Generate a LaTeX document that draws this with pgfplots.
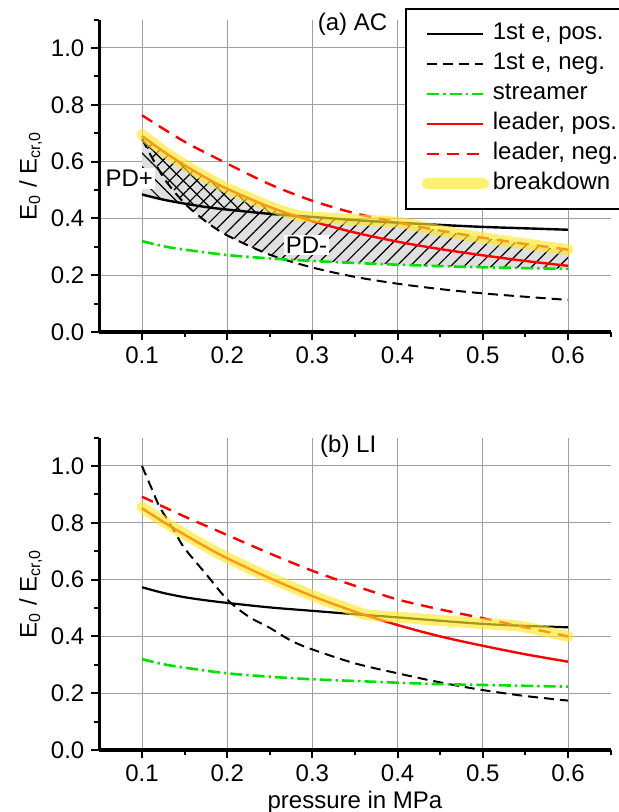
\documentclass[border=0pt]{standalone}
\usepackage{fontspec}
\setmainfont{Liberation Sans}
\usepackage{pgfplots}
\pgfplotsset{compat=1.18}
\usetikzlibrary{patterns.meta}

\definecolor{bdyellow}{RGB}{255,232,40}
\definecolor{lgreen}{RGB}{0,225,0}
\definecolor{lred}{RGB}{255,0,0}

\newcommand{\fs}{\fontsize{12}{14}\selectfont}

\pgfplotsset{
 myax/.style={
  scale only axis, width=255.6pt, height=156.2pt, anchor=south west,
  clip mode=individual,
  xmin=0.05,xmax=0.65,ymin=0,ymax=1.1,
  xtick={0.1,0.2,0.3,0.4,0.5,0.6},
  minor xtick={0.15,0.25,0.35,0.45,0.55,0.65},
  ytick={0,0.2,0.4,0.6,0.8,1.0},
  minor ytick={0.1,0.3,0.5,0.7,0.9,1.1},
  /pgf/number format/fixed,
  /pgf/number format/fixed zerofill,
  /pgf/number format/precision=1,
  /pgf/number format/assume math mode=true,
  grid=major,
  major grid style={line width=0.5pt, gray!75},
  axis x line=bottom, axis y line=left,
  axis line style={line width=1.8pt,-},
  x axis line style={-}, y axis line style={-},
  tick align=outside, major tick length=4pt, minor tick length=2.5pt,
  every tick/.style={black, line width=1pt},
  tick label style={font=\fs},
  label style={font=\fs},
  ylabel={E\textsubscript{0} / E\textsubscript{cr,0}},
  ylabel style={at={(axis description cs:-0.098,0.5)}, anchor=south, rotate=0},
 },
 posE/.style={black, line width=1.1pt, smooth},
 negE/.style={black, line width=1pt, dash pattern=on 5pt off 3pt, smooth},
 strm/.style={lgreen, line width=1.3pt, dash pattern=on 6pt off 2pt on 1.2pt off 2pt, smooth},
 posL/.style={lred, line width=1.2pt, smooth},
 negL/.style={lred, line width=1.2pt, dash pattern=on 6pt off 4pt, smooth},
 bd/.style={bdyellow, opacity=0.65, line width=5.5pt, line cap=round, line join=round, smooth},
}

\begin{document}
\begin{tikzpicture}
\useasboundingbox (0,0) rectangle (309.5pt,406pt);

% ---------------- (a) AC ----------------
\begin{axis}[myax, at={(49.7pt,240pt)},
  legend cell align=left,
  legend image code/.code={\draw[#1] (0pt,0pt) -- (28pt,0pt);},
  legend style={at={(rel axis cs:0.598,1.037)}, anchor=north west, draw=black,
    line width=0.8pt, fill=white, inner xsep=8pt, inner ysep=5pt,
    row sep=0pt, column sep=0pt, font=\fs,
    nodes={text height=8.5pt, text depth=2.5pt, inner sep=2pt}},
]
% PD- region (gray + / hatch)
\addplot[forget plot, draw=none, fill=gray!25] coordinates {
 (0.1,0.695)(0.125,0.638)(0.15,0.589)(0.175,0.545)(0.2,0.506)(0.225,0.472)(0.25,0.442)(0.28,0.412)(0.3,0.405)(0.35,0.395)(0.4,0.386)(0.45,0.357)(0.5,0.332)(0.55,0.31)(0.6,0.285)
 (0.6,0.222)(0.55,0.225)(0.5,0.228)(0.45,0.232)(0.4,0.237)(0.35,0.243)(0.3,0.25)(0.27,0.253)(0.25,0.272)(0.225,0.302)(0.2,0.34)(0.175,0.389)(0.15,0.453)(0.125,0.545)(0.1,0.68)
} -- cycle;
% PD+ region (gray + \ hatch)
\addplot[forget plot, draw=none, fill=gray!25] coordinates {
 (0.1,0.695)(0.125,0.638)(0.15,0.589)(0.175,0.545)(0.2,0.506)(0.225,0.472)(0.25,0.442)(0.28,0.412)
 (0.25,0.416)(0.2,0.431)(0.175,0.44)(0.15,0.452)(0.125,0.466)(0.1,0.484)
} -- cycle;
\addplot[forget plot, draw=none, pattern={Lines[angle=45,distance=4.8pt,line width=0.6pt]}, pattern color=black] coordinates {
 (0.1,0.695)(0.125,0.638)(0.15,0.589)(0.175,0.545)(0.2,0.506)(0.225,0.472)(0.25,0.442)(0.28,0.412)(0.3,0.405)(0.35,0.395)(0.4,0.386)(0.45,0.357)(0.5,0.332)(0.55,0.31)(0.6,0.285)
 (0.6,0.222)(0.55,0.225)(0.5,0.228)(0.45,0.232)(0.4,0.237)(0.35,0.243)(0.3,0.25)(0.27,0.253)(0.25,0.272)(0.225,0.302)(0.2,0.34)(0.175,0.389)(0.15,0.453)(0.125,0.545)(0.1,0.68)
} -- cycle;
\addplot[forget plot, draw=none, pattern={Lines[angle=-45,distance=4.8pt,line width=0.6pt]}, pattern color=black] coordinates {
 (0.1,0.695)(0.125,0.638)(0.15,0.589)(0.175,0.545)(0.2,0.506)(0.225,0.472)(0.25,0.442)(0.28,0.412)
 (0.25,0.416)(0.2,0.431)(0.175,0.44)(0.15,0.452)(0.125,0.466)(0.1,0.484)
} -- cycle;

\addplot[posE, line width=1.2pt] coordinates {(0.1,0.484)(0.125,0.466)(0.15,0.452)(0.175,0.44)(0.2,0.431)(0.25,0.416)(0.3,0.405)(0.35,0.394)(0.4,0.385)(0.45,0.377)(0.5,0.37)(0.55,0.365)(0.6,0.36)};
\addlegendentry{1st e, pos.}
\addplot[negE] coordinates {(0.1,0.68)(0.125,0.545)(0.15,0.453)(0.175,0.389)(0.2,0.34)(0.25,0.272)(0.3,0.227)(0.35,0.194)(0.4,0.17)(0.45,0.151)(0.5,0.136)(0.55,0.124)(0.6,0.113)};
\addlegendentry{1st e, neg.}
\addplot[strm] coordinates {(0.1,0.32)(0.125,0.302)(0.15,0.29)(0.2,0.271)(0.25,0.259)(0.3,0.25)(0.35,0.243)(0.4,0.237)(0.45,0.232)(0.5,0.228)(0.55,0.225)(0.6,0.222)};
\addlegendentry{streamer}
\addplot[posL] coordinates {(0.1,0.69)(0.125,0.636)(0.15,0.587)(0.175,0.543)(0.2,0.504)(0.25,0.44)(0.3,0.39)(0.35,0.35)(0.4,0.318)(0.45,0.292)(0.5,0.27)(0.55,0.25)(0.6,0.233)};
\addlegendentry{leader, pos.}
\addplot[negL] coordinates {(0.1,0.763)(0.15,0.67)(0.2,0.593)(0.25,0.52)(0.3,0.462)(0.35,0.418)(0.4,0.386)(0.45,0.357)(0.5,0.332)(0.55,0.31)(0.6,0.29)};
\addlegendentry{leader, neg.}
\addplot[bd] coordinates {(0.1,0.695)(0.125,0.638)(0.15,0.589)(0.175,0.545)(0.2,0.506)(0.25,0.442)(0.28,0.412)(0.3,0.405)(0.35,0.395)(0.4,0.386)(0.45,0.357)(0.5,0.332)(0.55,0.31)(0.6,0.29)};
\addlegendentry{breakdown}

\node[font=\fs] at (axis cs:0.347,1.085) {(a) AC};
\node[font=\fs, fill=white, inner sep=1pt] at (axis cs:0.085,0.54) {PD+};
\node[font=\fs, fill=white, inner sep=1pt] at (axis cs:0.293,0.306) {PD-};
\end{axis}

% ---------------- (b) LI ----------------
\begin{axis}[myax, at={(49.7pt,31pt)},
  xlabel={pressure in MPa},
  xlabel style={at={(axis description cs:0.5,0)}, anchor=north, yshift=-17pt},
]
\addplot[posE] coordinates {(0.1,0.573)(0.125,0.553)(0.15,0.538)(0.175,0.527)(0.2,0.518)(0.25,0.502)(0.3,0.49)(0.35,0.478)(0.4,0.467)(0.45,0.455)(0.5,0.444)(0.55,0.437)(0.6,0.432)};
\addplot[negE] coordinates {(0.1,1.0)(0.11,0.93)(0.12,0.86)(0.13,0.81)(0.14,0.76)(0.15,0.71)(0.175,0.62)(0.2,0.53)(0.225,0.47)(0.25,0.43)(0.275,0.385)(0.3,0.354)(0.35,0.305)(0.4,0.27)(0.45,0.238)(0.5,0.211)(0.55,0.19)(0.6,0.174)};
\addplot[strm] coordinates {(0.1,0.32)(0.125,0.302)(0.15,0.29)(0.2,0.27)(0.25,0.258)(0.3,0.249)(0.35,0.243)(0.4,0.237)(0.45,0.232)(0.5,0.229)(0.55,0.226)(0.6,0.223)};
\addplot[posL] coordinates {(0.1,0.851)(0.125,0.803)(0.15,0.758)(0.175,0.715)(0.2,0.675)(0.25,0.605)(0.3,0.542)(0.35,0.487)(0.4,0.44)(0.45,0.4)(0.5,0.367)(0.55,0.337)(0.6,0.311)};
\addplot[negL] coordinates {(0.1,0.892)(0.15,0.822)(0.2,0.757)(0.25,0.692)(0.3,0.631)(0.35,0.578)(0.4,0.53)(0.45,0.495)(0.5,0.464)(0.55,0.432)(0.6,0.40)};
\addplot[bd] coordinates {(0.1,0.855)(0.125,0.805)(0.15,0.76)(0.175,0.717)(0.2,0.677)(0.25,0.607)(0.3,0.544)(0.35,0.489)(0.365,0.476)(0.4,0.468)(0.45,0.456)(0.5,0.445)(0.54,0.437)(0.57,0.42)(0.6,0.40)};
\node[font=\fs] at (axis cs:0.342,1.07) {(b) LI};
\end{axis}
\end{tikzpicture}
\end{document}
